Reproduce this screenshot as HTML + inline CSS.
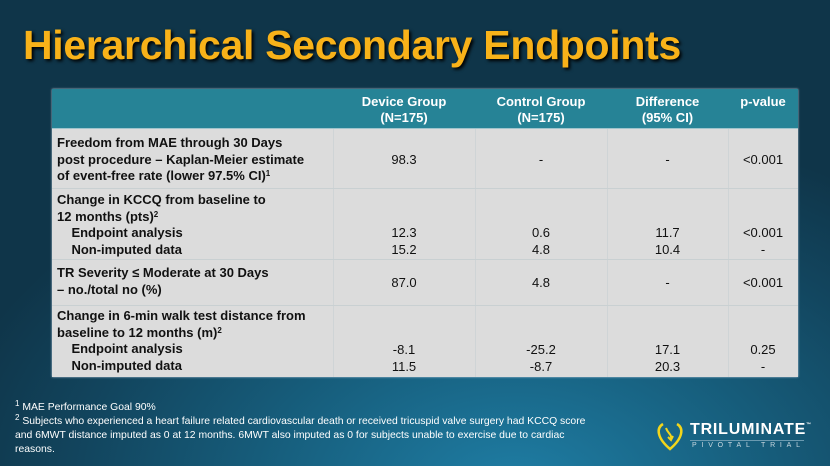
<!DOCTYPE html>
<html><head><meta charset="utf-8"><style>
*{margin:0;padding:0;box-sizing:border-box}
body{width:830px;height:466px;overflow:hidden;position:relative;font-family:"Liberation Sans",Arial,sans-serif;
background:radial-gradient(ellipse 70% 80% at 62% 105%,#1f7ea5 0%,#17607f 40%,#12455e 75%,#0f3549 100%);}
h1{position:absolute;left:23px;top:22px;font-size:41px;font-weight:bold;color:#f8b219;letter-spacing:-0.3px;text-shadow:2px 2px 3px #000;white-space:nowrap}
.t{position:absolute;left:52px;top:89px;width:746px;height:288px;background:#dcdcdc;box-shadow:0 0 2px #bcd}
.hd{position:absolute;left:0;top:0;width:746px;height:40px;background:#268396;border-bottom:1px solid #9fc4cc}
.c{position:absolute;font-size:13px;font-weight:bold;color:#111;line-height:16.5px}
.h{color:#fff;text-align:center;font-size:13px;font-weight:bold;position:absolute;line-height:16px;top:5px}
.n{position:absolute;font-size:13px;color:#111;text-align:center;line-height:16.5px}
.vl{position:absolute;top:40px;width:1px;height:248px;background:#cfd4d6}
.hl{position:absolute;left:0;width:746px;height:1px;background:#c9d0d2}
.fn{position:absolute;left:15px;top:401px;color:#fff;font-size:10.4px;line-height:14px}
sup{font-size:8px;vertical-align:4px;line-height:0}
</style></head><body>
<h1>Hierarchical Secondary Endpoints</h1>
<div class="t">
<div class="hd"></div>
<div class="h" style="left:281px;width:142px">Device Group<br>(N=175)</div>
<div class="h" style="left:423px;width:132px">Control Group<br>(N=175)</div>
<div class="h" style="left:555px;width:121px">Difference<br>(95% CI)</div>
<div class="h" style="left:676px;width:70px">p-value</div>
<div class="vl" style="left:281px"></div><div class="vl" style="left:423px"></div><div class="vl" style="left:555px"></div><div class="vl" style="left:676px"></div>
<div class="hl" style="top:99px"></div><div class="hl" style="top:170px"></div><div class="hl" style="top:216px"></div>
<div class="c" style="left:5px;top:46px">Freedom from MAE through 30 Days<br>post procedure – Kaplan-Meier estimate<br>of event-free rate (lower 97.5% CI)<sup>1</sup></div>
<div class="c" style="left:5px;top:103px">Change in KCCQ from baseline to<br>12 months (pts)<sup>2</sup><br>&nbsp;&nbsp;&nbsp;&nbsp;Endpoint analysis<br>&nbsp;&nbsp;&nbsp;&nbsp;Non-imputed data</div>
<div class="c" style="left:5px;top:176px">TR Severity ≤ Moderate at 30 Days<br>– no./total no (%)</div>
<div class="c" style="left:5px;top:219px">Change in 6-min walk test distance from<br>baseline to 12 months (m)<sup>2</sup><br>&nbsp;&nbsp;&nbsp;&nbsp;Endpoint analysis<br>&nbsp;&nbsp;&nbsp;&nbsp;Non-imputed data</div>
<div class="n" style="left:281px;width:142px;top:63px">98.3</div>
<div class="n" style="left:423px;width:132px;top:63px">-</div>
<div class="n" style="left:555px;width:121px;top:63px">-</div>
<div class="n" style="left:676px;width:70px;top:63px">&lt;0.001</div>
<div class="n" style="left:281px;width:142px;top:136px">12.3<br>15.2</div>
<div class="n" style="left:423px;width:132px;top:136px">0.6<br>4.8</div>
<div class="n" style="left:555px;width:121px;top:136px">11.7<br>10.4</div>
<div class="n" style="left:676px;width:70px;top:136px">&lt;0.001<br>-</div>
<div class="n" style="left:281px;width:142px;top:186px">87.0</div>
<div class="n" style="left:423px;width:132px;top:186px">4.8</div>
<div class="n" style="left:555px;width:121px;top:186px">-</div>
<div class="n" style="left:676px;width:70px;top:186px">&lt;0.001</div>
<div class="n" style="left:281px;width:142px;top:253px">-8.1<br>11.5</div>
<div class="n" style="left:423px;width:132px;top:253px">-25.2<br>-8.7</div>
<div class="n" style="left:555px;width:121px;top:253px">17.1<br>20.3</div>
<div class="n" style="left:676px;width:70px;top:253px">0.25<br>-</div>
</div>
<div class="fn"><sup>1</sup> MAE Performance Goal 90%<br><sup>2</sup> Subjects who experienced a heart failure related cardiovascular death or received tricuspid valve surgery had KCCQ score<br>and 6MWT distance imputed as 0 at 12 months. 6MWT also imputed as 0 for subjects unable to exercise due to cardiac<br>reasons.</div>
<svg style="position:absolute;left:655px;top:420px" width="30" height="32" viewBox="0 0 30 32"><path d="M8 4 C1 8 2 18 15 29 C28 18 29 8 22 4" fill="none" stroke="#f2d51b" stroke-width="2.5"/><path d="M11 8 C13 14 17 14 16 19 M13 17 L16 20 L18 16" fill="none" stroke="#f2d51b" stroke-width="2"/></svg>
<div style="position:absolute;left:690px;top:421px;color:#fff;font-weight:bold;font-size:16px;letter-spacing:0.8px">TRILUMINATE<span style="font-size:5px;vertical-align:8px">™</span></div>
<div style="position:absolute;left:690px;top:440px;width:114px;border-top:1px solid #6a9ab0"></div>
<div style="position:absolute;left:692px;top:442px;color:#c8d8e0;font-size:7px;letter-spacing:4.8px">PIVOTAL TRIAL</div>
</body></html>
